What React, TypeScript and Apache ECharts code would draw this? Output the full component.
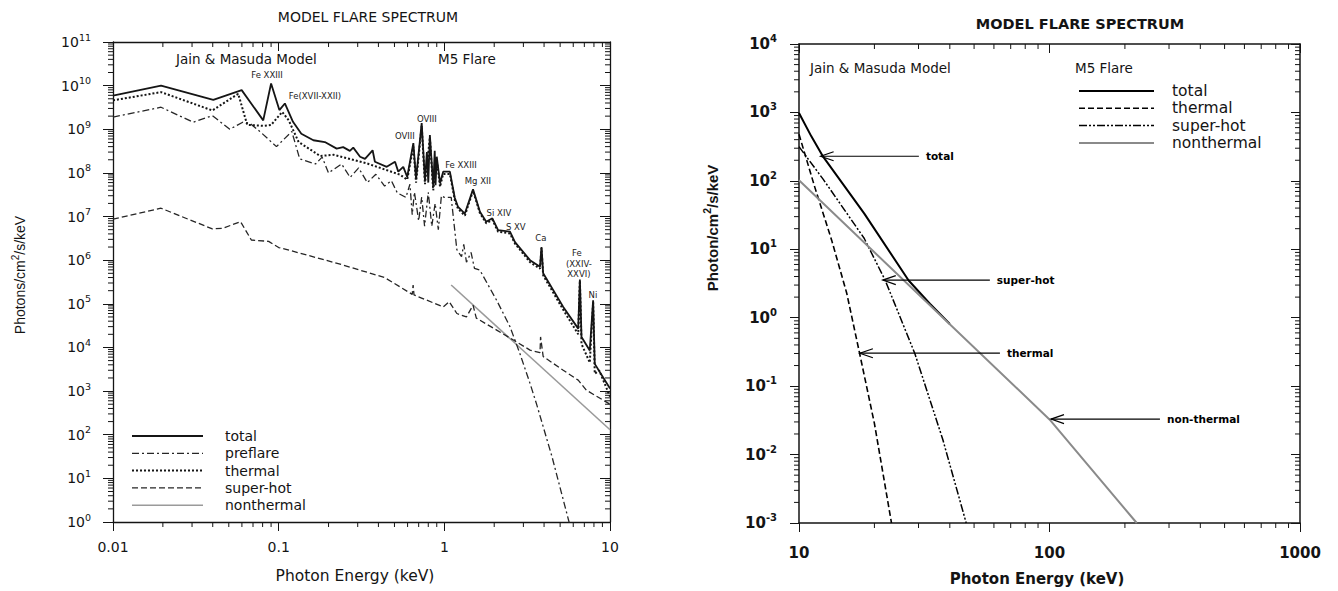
import React, { useEffect, useRef } from 'react';
import * as echarts from 'echarts';

type P = [number, number];

// ---------------- Left panel: soft X-ray model spectrum ----------------
// [photon energy keV, photons/cm^2/s/keV]
const LEFT_TOTAL: P[] = [
  [0.01, 5.9e9], [0.0195, 1.0e10], [0.0403, 4.7e9], [0.0598, 7.9e9], [0.0807, 1.6e9],
  [0.09, 1.12e10], [0.101, 2.75e9], [0.109, 3.9e9], [0.122, 1.48e9], [0.137, 7.9e8],
  [0.162, 5.6e8], [0.19, 5.1e8], [0.224, 3.6e8], [0.245, 3.9e8], [0.269, 3.2e8],
  [0.282, 3.8e8], [0.31, 2.35e8], [0.332, 2.1e8], [0.369, 3.3e8], [0.381, 1.8e8],
  [0.449, 1.38e8], [0.504, 1.8e8], [0.527, 1.07e8], [0.565, 1.38e8], [0.597, 8.1e7],
  [0.65, 4.8e8], [0.675, 7.4e7], [0.73, 1.38e9], [0.764, 6.8e7], [0.785, 3.0e8],
  [0.8, 6.0e7], [0.818, 7.4e8], [0.857, 4.8e7], [0.875, 3.2e8], [0.885, 5.2e7],
  [0.9, 2.35e8], [0.942, 5.8e7], [0.984, 1.07e8], [1.08, 1.07e8], [1.156, 2.7e7],
  [1.21, 1.66e7], [1.33, 1.17e7], [1.49, 4.2e7], [1.64, 1.29e7], [1.79, 7.6e6],
  [1.95, 9.1e6], [2.11, 4.9e6], [2.49, 4.5e6], [2.67, 2.6e6], [3.29, 1.0e6],
  [3.78, 7.1e5], [3.86, 2.0e6], [3.95, 5.0e5], [5.22, 8.5e4], [6.43, 2.7e4],
  [6.58, 3.6e5], [6.73, 1.74e4], [7.55, 8.5e3], [7.91, 1.2e5], [8.09, 4.2e3],
  [10, 1.15e3],
];
const LEFT_PREFLARE: P[] = [
  [0.01, 1.9e9], [0.0195, 3.2e9], [0.0305, 1.45e9], [0.0398, 2.05e9], [0.0507, 1.0e9],
  [0.0607, 1.45e9], [0.067, 1.38e9], [0.077, 8.9e8], [0.097, 4.0e8], [0.106, 5.6e8],
  [0.12, 8.9e8], [0.134, 2.1e8], [0.167, 1.6e8], [0.183, 2.3e8], [0.2, 1.0e8],
  [0.24, 1.6e8], [0.27, 7.9e7], [0.304, 1.3e8], [0.343, 6.0e7], [0.386, 9.3e7],
  [0.436, 5.0e7], [0.479, 6.6e7], [0.52, 3.5e7], [0.586, 2.75e7], [0.62, 5.5e7],
  [0.64, 1.1e7], [0.66, 3.6e7], [0.7, 8.0e6], [0.73, 2.8e7], [0.76, 6.0e6],
  [0.8, 3.6e7], [0.84, 6.0e6], [0.88, 2.0e7], [0.92, 5.0e6], [0.96, 3.0e7],
  [1.0, 2.75e7], [1.1, 2.75e7], [1.19, 1.74e6], [1.27, 1.2e6], [1.31, 2.3e6],
  [1.36, 9.0e5], [1.45, 1.5e6], [1.52, 6.5e5], [1.64, 5.9e5], [2.07, 1.2e5],
  [2.49, 3.0e4], [2.86, 7.2e3], [3.29, 1.5e3], [3.6, 5.1e2], [4.47, 31],
  [5.66, 1.0], [6.2, 0.25],
];
const LEFT_THERMAL: P[] = [
  [0.01, 4.6e9], [0.0195, 7.1e9], [0.0398, 2.7e9], [0.057, 6.5e9], [0.0646, 1.26e9],
  [0.081, 1.2e9], [0.09, 1.25e9], [0.105, 2.5e9], [0.115, 1.6e9], [0.132, 5.1e8],
  [0.178, 2.45e8], [0.214, 2.6e8], [0.34, 1.66e8], [0.54, 9.1e7], [0.597, 7.0e7],
  [0.65, 4.0e8], [0.675, 6.0e7], [0.73, 1.2e9], [0.764, 5.5e7], [0.818, 6.5e8],
  [0.857, 4.0e7], [0.9, 2.0e8], [0.942, 4.8e7], [0.984, 9.5e7], [1.08, 9.5e7],
  [1.156, 2.4e7], [1.21, 1.5e7], [1.33, 1.05e7], [1.49, 3.9e7], [1.64, 1.2e7],
  [1.79, 7.0e6], [1.95, 8.4e6], [2.11, 4.5e6], [2.49, 4.1e6], [2.67, 2.4e6],
  [3.29, 9.0e5], [3.78, 6.4e5], [3.86, 1.9e6], [3.95, 4.5e5], [5.22, 7.3e4],
  [6.43, 2.0e4], [6.58, 3.4e5], [6.73, 1.2e4], [7.55, 4.5e3], [7.91, 1.1e5],
  [8.09, 2.5e3], [8.6, 3.0e3], [10, 7.5e2],
];
const LEFT_SUPERHOT: P[] = [
  [0.01, 8.7e6], [0.0195, 1.55e7], [0.0398, 5.2e6], [0.046, 5.4e6], [0.0589, 7.6e6],
  [0.0684, 2.9e6], [0.087, 2.7e6], [0.1, 1.95e6], [0.132, 1.48e6], [0.24, 7.9e5],
  [0.436, 4.0e5], [0.64, 1.65e5], [0.648, 2.7e5], [0.656, 1.6e5], [0.984, 8.5e4],
  [1.07, 1.12e5], [1.19, 6.0e4], [1.36, 5.0e4], [1.49, 9.3e4], [1.56, 4.7e4],
  [2.07, 2.5e4], [2.61, 1.48e4], [3.29, 8.7e3], [3.78, 7.6e3], [3.81, 1.74e4],
  [3.95, 6.2e3], [5.22, 3.0e3], [6.43, 1.78e3], [7.2, 1.05e3], [10, 5.0e2],
];
const LEFT_NONTHERMAL: P[] = [[1.1, 2.7e5], [10, 1.3e2]];

// line identifications: [energy, flux] of label centre
const LEFT_LINE_LABELS: P[] = [
  [0.085, 1.75e10], [0.1655, 5.8e9], [0.785, 1.71e9], [0.578, 6.98e8], [1.26, 1.51e8],
  [1.595, 6.5e7], [2.135, 1.2e7], [2.7, 5.7e6], [3.83, 3.2e6], [6.31, 1.45e6],
  [6.49, 8.1e5], [6.49, 4.8e5], [7.89, 1.57e5],
];
const LEFT_LINE_LABEL_TEXT = [
  'Fe XXIII', 'Fe(XVII-XXII)', 'OVIII', 'OVIII', 'Fe XXIII', 'Mg XII', 'Si XIV', 'S XV',
  'Ca', 'Fe', '(XXIV-', 'XXVI)', 'Ni',
];

// ---------------- Right panel: hard X-ray model spectrum ----------------
const RIGHT_TOTAL: P[] = [
  [10, 980], [11.2, 447], [12.5, 224], [18.2, 33.5], [27.4, 3.5], [33.3, 1.6], [40, 0.81],
];
const RIGHT_THERMAL: P[] = [
  [10, 480], [11.56, 81], [13.5, 13.6], [15.5, 2.3], [17.46, 0.3], [20.0, 0.0285], [23.4, 0.001],
];
const RIGHT_SUPERHOT: P[] = [
  [10, 316], [12.5, 105], [18.2, 14.5], [22.1, 3.5], [29.0, 0.3], [37.5, 0.0166], [46.5, 0.001],
];
const RIGHT_NONTHERMAL: P[] = [[10, 102], [100, 0.0326], [223, 0.001]];

// arrows: [tip energy, flux, energy where the arrow shaft ends]
const RIGHT_ARROWS: [number, number, number][] = [
  [12.2, 229, 30.1], [21.6, 3.55, 57.8], [17.5, 0.303, 63.4], [101.4, 0.033, 276],
];
const RIGHT_ARROW_TEXT = ['total', 'super-hot', 'thermal', 'non-thermal'];

// ---------------- axes ----------------
const LEFT_X_TICK_LABELS = ['0.01', '0.1', '1', '10'];
const RIGHT_X_TICK_LABELS = ['10', '100', '1000'];
const LEFT_X_DECADES = [0.01, 0.1, 1];
const LEFT_Y_DECADES = [1, 1e1, 1e2, 1e3, 1e4, 1e5, 1e6, 1e7, 1e8, 1e9, 1e10];
const LEFT_Y_MAJOR = [1, 1e1, 1e2, 1e3, 1e4, 1e5, 1e6, 1e7, 1e8, 1e9, 1e10, 1e11];
const RIGHT_X_DECADES = [10, 100];
const RIGHT_Y_DECADES = [1e-3, 1e-2, 1e-1, 1, 10, 100, 1000];
const MINOR_STEPS = [2, 3, 4, 5, 6, 7, 8, 9];

const FONT = '"Liberation Sans", Arial, Helvetica, sans-serif';
const WFONT = '"DejaVu Sans", Verdana, sans-serif';
const INK = '#141414';

const L_GRID = { left: 113, top: 42, width: 497, height: 480 };
const R_GRID = { left: 799, top: 44, width: 501, height: 479 };

type LS = { color: string; width: number; dash: number[] | null };
const L_STYLE: Record<string, LS> = {
  total: { color: '#151515', width: 1.8, dash: null },
  preflare: { color: '#262626', width: 1.3, dash: [7, 3, 2, 3] },
  thermal: { color: '#151515', width: 2, dash: [2, 2] },
  superhot: { color: '#262626', width: 1.3, dash: [6, 3] },
  nonthermal: { color: '#9a9a9a', width: 1.6, dash: null },
};
const R_STYLE: Record<string, LS> = {
  total: { color: '#000', width: 2, dash: null },
  thermal: { color: '#000', width: 1.6, dash: [6, 3] },
  superhot: { color: '#000', width: 1.5, dash: [8, 2, 2, 2, 2, 2] },
  nonthermal: { color: '#8a8a8a', width: 2, dash: null },
};

function minorTicks(xDec: number[], yDec: number[], xMin: number, yMin: number) {
  const out: number[][] = [];
  xDec.forEach((d) => MINOR_STEPS.forEach((m) => out.push([d * m, yMin, 0])));
  yDec.forEach((d) => MINOR_STEPS.forEach((m) => out.push([xMin, d * m, 1])));
  return out;
}

function lineSeries(name: string, data: P[], s: LS, axis: number) {
  return {
    type: 'line', name, data, xAxisIndex: axis, yAxisIndex: axis,
    symbol: 'none', showSymbol: false, clip: true, silent: true, z: 3,
    lineStyle: { color: s.color, width: s.width, type: s.dash || 'solid' },
    itemStyle: { color: s.color },
  };
}

function tickSeries(axis: number, data: number[][], len: number) {
  return {
    type: 'custom', xAxisIndex: axis, yAxisIndex: axis, data, silent: true, clip: false, z: 6,
    encode: { x: 0, y: 1 },
    renderItem: (params: any, api: any) => {
      const cs = params.coordSys;
      const p = api.coord([api.value(0), api.value(1)]);
      const st = { stroke: INK, lineWidth: 1 };
      if (api.value(2) === 0) {
        const b = cs.y + cs.height;
        return {
          type: 'group', children: [
            { type: 'line', shape: { x1: p[0], y1: b, x2: p[0], y2: b + len }, style: st },
            { type: 'line', shape: { x1: p[0], y1: cs.y, x2: p[0], y2: cs.y + len }, style: st },
          ],
        };
      }
      const r = cs.x + cs.width;
      return {
        type: 'group', children: [
          { type: 'line', shape: { x1: cs.x - len, y1: p[1], x2: cs.x, y2: p[1] }, style: st },
          { type: 'line', shape: { x1: r - len, y1: p[1], x2: r, y2: p[1] }, style: st },
        ],
      };
    },
  };
}

const expOf = (v: number) => Math.round(Math.log10(v));

function logAxis(opts: any) {
  const tick: any = { show: true, inside: opts.inside, length: opts.tickLen, lineStyle: { color: INK, width: 1 } };
  if (opts.custom) tick.customValues = opts.custom;
  const label: any = opts.label
    ? { show: true, showMinLabel: true, showMaxLabel: true, hideOverlap: false, ...opts.label }
    : { show: false };
  if (opts.label && opts.custom) label.customValues = opts.custom;
  return {
    type: 'log', logBase: 10, gridIndex: opts.grid, position: opts.position,
    min: opts.min, max: opts.max, splitNumber: opts.split,
    axisLine: { show: true, onZero: false, lineStyle: { color: INK, width: opts.lineW } },
    axisTick: tick,
    axisLabel: label,
    splitLine: { show: false }, minorTick: { show: false }, minorSplitLine: { show: false },
    axisPointer: { show: false },
  };
}

function legendGraphic(items: [string, LS][], x1: number, x2: number, xt: number, y0: number, dy: number, font: string) {
  const els: any[] = [];
  items.forEach(([name, s], i) => {
    const y = y0 + i * dy;
    els.push({
      type: 'line', shape: { x1, y1: y, x2, y2: y },
      style: { stroke: s.color, lineWidth: s.width, lineDash: s.dash || undefined },
    });
    els.push({
      type: 'text', x: xt, y,
      style: { text: name, font, fill: INK, textAlign: 'left', textVerticalAlign: 'middle' },
    });
  });
  return els;
}

function textEl(x: number, y: number, text: string, font: string, align = 'left', extra: any = {}) {
  return {
    type: 'text', x, y, ...extra,
    style: { text, font, fill: INK, textAlign: align, textVerticalAlign: 'middle' },
  };
}

export default function App() {
  const ref = useRef<HTMLDivElement>(null);
  useEffect(() => {
    if (!ref.current) return;
    const chart = echarts.init(ref.current, null, { renderer: 'svg' });

    const leftYLabel = {
      margin: 22,
      formatter: (v: number) => `{b|10}{s|${expOf(v)}}`,
      rich: {
        b: { fontSize: 14, fontFamily: WFONT, color: INK, lineHeight: 20 },
        s: { fontSize: 9.5, fontFamily: WFONT, color: INK, verticalAlign: 'top' },
      },
    };
    const rightYLabel = {
      margin: 22,
      formatter: (v: number) => `{b|10}{s|${expOf(v)}}`,
      rich: {
        b: { fontSize: 15, fontWeight: 'bold', fontFamily: WFONT, color: INK, lineHeight: 21 },
        s: { fontSize: 10, fontWeight: 'bold', fontFamily: WFONT, color: INK, verticalAlign: 'top' },
      },
    };

    const option: any = {
      animation: false,
      backgroundColor: '#ffffff',
      grid: [
        { ...L_GRID, containLabel: false, outerBoundsMode: 'none' },
        { ...R_GRID, containLabel: false, outerBoundsMode: 'none' },
      ],
      xAxis: [
        logAxis({
          grid: 0, position: 'bottom', min: 0.01, max: 10, split: 3, lineW: 1.3, inside: false, tickLen: 9,
          label: {
            margin: 18, color: INK, fontSize: 14, fontFamily: WFONT,
            formatter: (v: number) => LEFT_X_TICK_LABELS[expOf(v) + 2],
          },
        }),
        logAxis({ grid: 0, position: 'top', min: 0.01, max: 10, split: 3, lineW: 1.3, inside: true, tickLen: 9 }),
        logAxis({
          grid: 1, position: 'bottom', min: 10, max: 1000, split: 2, lineW: 1.5, inside: false, tickLen: 9,
          label: {
            margin: 22, color: INK, fontSize: 15, fontWeight: 'bold', fontFamily: WFONT,
            formatter: (v: number) => RIGHT_X_TICK_LABELS[expOf(v) - 1],
          },
        }),
        logAxis({ grid: 1, position: 'top', min: 10, max: 1000, split: 2, lineW: 1.5, inside: true, tickLen: 9 }),
      ],
      yAxis: [
        logAxis({
          grid: 0, position: 'left', min: 1, max: 1e11, split: 11, lineW: 1.3, inside: false, tickLen: 10,
          label: leftYLabel, custom: LEFT_Y_MAJOR,
        }),
        logAxis({
          grid: 0, position: 'right', min: 1, max: 1e11, split: 11, lineW: 1.3, inside: true, tickLen: 10,
          custom: LEFT_Y_MAJOR,
        }),
        logAxis({ grid: 1, position: 'left', min: 1e-3, max: 1e4, split: 7, lineW: 1.5, inside: false, tickLen: 9, label: rightYLabel }),
        logAxis({ grid: 1, position: 'right', min: 1e-3, max: 1e4, split: 7, lineW: 1.5, inside: true, tickLen: 9 }),
      ],
      series: [
        lineSeries('nonthermal', LEFT_NONTHERMAL, L_STYLE.nonthermal, 0),
        lineSeries('super-hot', LEFT_SUPERHOT, L_STYLE.superhot, 0),
        lineSeries('preflare', LEFT_PREFLARE, L_STYLE.preflare, 0),
        lineSeries('thermal', LEFT_THERMAL, L_STYLE.thermal, 0),
        lineSeries('total', LEFT_TOTAL, L_STYLE.total, 0),
        lineSeries('thermal (HXR)', RIGHT_THERMAL, R_STYLE.thermal, 2),
        lineSeries('super-hot (HXR)', RIGHT_SUPERHOT, R_STYLE.superhot, 2),
        lineSeries('total (HXR)', RIGHT_TOTAL, R_STYLE.total, 2),
        lineSeries('nonthermal (HXR)', RIGHT_NONTHERMAL, R_STYLE.nonthermal, 2),
        tickSeries(0, minorTicks(LEFT_X_DECADES, LEFT_Y_DECADES, 0.01, 1), 5),
        tickSeries(2, minorTicks(RIGHT_X_DECADES, RIGHT_Y_DECADES, 10, 1e-3), 5),
        {
          type: 'custom', xAxisIndex: 0, yAxisIndex: 0, data: LEFT_LINE_LABELS, silent: true, clip: false, z: 7,
          encode: { x: 0, y: 1 },
          renderItem: (params: any, api: any) => {
            const p = api.coord([api.value(0), api.value(1)]);
            return {
              type: 'text', x: p[0], y: p[1],
              style: {
                text: LEFT_LINE_LABEL_TEXT[params.dataIndex], font: `8.5px ${WFONT}`, fill: '#222',
                textAlign: 'center', textVerticalAlign: 'middle',
              },
            };
          },
        },
        {
          type: 'custom', xAxisIndex: 2, yAxisIndex: 2, data: RIGHT_ARROWS, silent: true, clip: false, z: 7,
          encode: { x: 0, y: 1 },
          renderItem: (params: any, api: any) => {
            const tip = api.coord([api.value(0), api.value(1)]);
            const end = api.coord([api.value(2), api.value(1)]);
            const st = { stroke: '#000', lineWidth: 1.2, fill: 'none' };
            return {
              type: 'group', children: [
                { type: 'line', shape: { x1: tip[0], y1: tip[1], x2: end[0], y2: end[1] }, style: st },
                {
                  type: 'polyline',
                  shape: { points: [[tip[0] + 13, tip[1] - 4.5], [tip[0], tip[1]], [tip[0] + 13, tip[1] + 4.5]] },
                  style: st,
                },
                {
                  type: 'text', x: end[0] + 7, y: end[1],
                  style: {
                    text: RIGHT_ARROW_TEXT[params.dataIndex], font: `bold 10.5px ${WFONT}`, fill: '#000',
                    textAlign: 'left', textVerticalAlign: 'middle',
                  },
                },
              ],
            };
          },
        },
      ],
      graphic: [
        textEl(368, 17, 'MODEL FLARE SPECTRUM', `14px ${WFONT}`, 'center'),
        textEl(1080, 24, 'MODEL FLARE SPECTRUM', `bold 14.5px ${WFONT}`, 'center'),
        textEl(176, 59, 'Jain & Masuda Model', `13.5px ${WFONT}`),
        textEl(438, 59, 'M5 Flare', `13.5px ${WFONT}`),
        textEl(810, 68, 'Jain & Masuda Model', `13.5px ${WFONT}`),
        textEl(1075, 68, 'M5 Flare', `13.5px ${WFONT}`),
        textEl(355, 576, 'Photon Energy (keV)', `15.5px ${WFONT}`, 'center'),
        textEl(1037, 579, 'Photon Energy (keV)', `bold 15px ${WFONT}`, 'center'),
        {
          type: 'text', x: 20, y: 275, rotation: Math.PI / 2,
          style: {
            text: '{a|Photons/cm}{s|2}{a|/s/keV}', textAlign: 'center', textVerticalAlign: 'middle',
            rich: {
              a: { fontSize: 14, fontFamily: FONT, fill: INK, lineHeight: 20 },
              s: { fontSize: 10, fontFamily: FONT, fill: INK, verticalAlign: 'top' },
            },
          },
        },
        {
          type: 'text', x: 712, y: 228, rotation: Math.PI / 2,
          style: {
            text: '{a|Photon/cm}{s|2}{a|/s/keV}', textAlign: 'center', textVerticalAlign: 'middle',
            rich: {
              a: { fontSize: 15, fontWeight: 'bold', fontFamily: FONT, fill: INK, lineHeight: 22 },
              s: { fontSize: 10.5, fontWeight: 'bold', fontFamily: FONT, fill: INK, verticalAlign: 'top' },
            },
          },
        },
        ...legendGraphic(
          [['total', L_STYLE.total], ['preflare', L_STYLE.preflare], ['thermal', L_STYLE.thermal],
            ['super-hot', L_STYLE.superhot], ['nonthermal', L_STYLE.nonthermal]],
          132, 203, 225, 436, 17.3, `14px ${WFONT}`,
        ),
        ...legendGraphic(
          [['total', R_STYLE.total], ['thermal', R_STYLE.thermal], ['super-hot', R_STYLE.superhot],
            ['nonthermal', R_STYLE.nonthermal]],
          1079, 1154, 1172, 91, 17.3, `15.5px ${WFONT}`,
        ),
      ],
    };

    chart.setOption(option);
    return () => chart.dispose();
  }, []);

  return (
    <div
      ref={ref}
      style={{ position: 'fixed', left: 0, top: 0, width: 1338, height: 591, background: '#fff' }}
    />
  );
}
